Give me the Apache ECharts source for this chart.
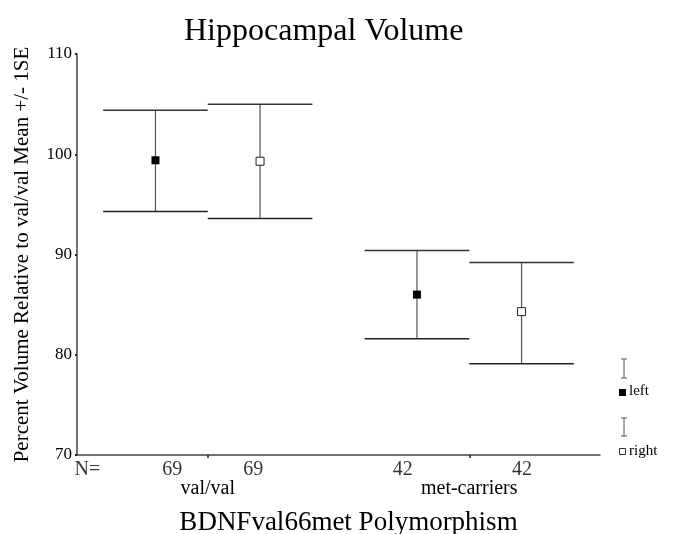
<!DOCTYPE html>
<html>
<head>
<meta charset="utf-8">
<script src="https://cdn.jsdelivr.net/npm/echarts@6/dist/echarts.min.js"></script>
<style>
  html, body { margin: 0; padding: 0; background: #fff; }
  #eChart { width: 676px; height: 534px; }
</style>
</head>
<body>
<div id="eChart"></div>
<script>
// values
const groups = ["val/val", "met-carriers"];
const groupPos = [2.5, 7.5];
const sides = ["left", "right"];
const barPos = [1.5, 3.5, 6.5, 8.5];
const barSide = ["left", "right", "left", "right"];
const means = [99.4, 99.3, 86.0, 84.3];
const upper = [104.4, 105.0, 90.4, 89.2];
const lower = [94.3, 93.6, 81.6, 79.1];
const nText = ["N=", "69", "69", "42", "42"];
const nPos = [0.2, 1.82, 3.37, 6.23, 8.51];
const yTicks = [70, 80, 90, 100, 110];

const FONT = "Liberation Serif";

const barData = barPos.map((x, i) => [x, lower[i], upper[i]]);
const meanData = (side) =>
  barPos.map((x, i) => (barSide[i] === side ? [x, means[i]] : null)).filter((d) => d);

function renderBar(params, api) {
  const x = api.value(0);
  const lo = api.coord([x, api.value(1)]);
  const hi = api.coord([x, api.value(2)]);
  const l = api.coord([x - 1, api.value(1)])[0];
  const r = api.coord([x + 1, api.value(1)])[0];
  return {
    type: "group",
    children: [
      { type: "line", shape: { x1: lo[0], y1: lo[1], x2: hi[0], y2: hi[1] },
        style: { stroke: "#555", lineWidth: 1.2 } },
      { type: "line", shape: { x1: l, y1: hi[1], x2: r, y2: hi[1] },
        style: { stroke: "#333", lineWidth: 1.5 } },
      { type: "line", shape: { x1: l, y1: lo[1], x2: r, y2: lo[1] },
        style: { stroke: "#222", lineWidth: 1.5 } },
    ],
  };
}

const myChart = echarts.init(document.getElementById("eChart"), null, { renderer: "canvas" });

myChart.setOption({
  animation: false,
  textStyle: { fontFamily: FONT },
  title: {
    text: "Hippocampal Volume",
    left: 179,
    top: 11,
    textStyle: { fontFamily: FONT, fontSize: 32, fontWeight: "normal", color: "#000" },
  },
  grid: { left: 77, right: 76, top: 54, bottom: 79, outerBoundsMode: "none" },
  xAxis: {
    type: "value",
    min: 0,
    max: 10,
    name: "BDNFval66met Polymorphism",
    nameLocation: "middle",
    nameGap: 54,
    nameTextStyle: { fontFamily: FONT, fontSize: 27, color: "#000", padding: [0, 0, 0, 20] },
    splitLine: { show: false },
    axisLine: { lineStyle: { color: "#444", width: 1.5 } },
    axisTick: { customValues: groupPos, length: 3, lineStyle: { color: "#222", width: 1.5 } },
    axisLabel: {
      customValues: groupPos,
      margin: 24,
      fontFamily: FONT,
      fontSize: 20,
      color: "#000",
      formatter: (v) => groups[groupPos.indexOf(v)] || "",
    },
  },
  yAxis: {
    type: "value",
    min: 70,
    max: 110,
    interval: 10,
    name: "Percent Volume Relative to val/val Mean +/- 1SE",
    nameLocation: "middle",
    nameGap: 44,
    nameTextStyle: { fontFamily: FONT, fontSize: 21, color: "#000" },
    splitLine: { show: false },
    axisLine: { show: true, lineStyle: { color: "#444", width: 1.5 } },
    axisTick: { show: true, length: 2, lineStyle: { color: "#222", width: 2 } },
    axisLabel: {
      margin: 5,
      fontFamily: FONT,
      fontSize: 17,
      color: "#000",
      formatter: (v) => (yTicks.includes(v) ? String(v) : ""),
    },
  },
  series: [
    {
      type: "custom",
      renderItem: renderBar,
      data: barData,
      encode: { x: 0, y: [1, 2] },
      z: 2,
    },
    {
      name: sides[0],
      type: "scatter",
      symbol: "rect",
      symbolSize: 8,
      itemStyle: { color: "#000", opacity: 1 },
      data: meanData("left"),
      z: 3,
    },
    {
      name: sides[1],
      type: "scatter",
      symbol: "rect",
      symbolSize: 8,
      itemStyle: { color: "#fff", borderColor: "#222", borderWidth: 1, opacity: 1 },
      data: meanData("right"),
      z: 3,
    },
    {
      type: "scatter",
      symbolSize: 0,
      clip: false,
      silent: true,
      data: nPos.map((x, i) => ({ value: [x, 70], name: nText[i] })),
      label: {
        show: true,
        position: "inside",
        offset: [0, 15],
        formatter: (p) => p.name,
        fontFamily: FONT,
        fontSize: 20,
        color: "#000",
      },
    },
  ],
  graphic: [
    // legend: error-bar icon above each marker
    { type: "line", shape: { x1: 624, y1: 359, x2: 624, y2: 378 }, style: { stroke: "#555", lineWidth: 1 } },
    { type: "line", shape: { x1: 621, y1: 359, x2: 627, y2: 359 }, style: { stroke: "#555", lineWidth: 1 } },
    { type: "line", shape: { x1: 621, y1: 378, x2: 627, y2: 378 }, style: { stroke: "#555", lineWidth: 1 } },
    { type: "rect", shape: { x: 619, y: 389, width: 7, height: 7 }, style: { fill: "#000" } },
    { type: "text", left: 629, top: 384, style: { text: sides[0], font: "15px " + FONT, fill: "#000" } },
    { type: "line", shape: { x1: 624, y1: 418, x2: 624, y2: 436 }, style: { stroke: "#555", lineWidth: 1 } },
    { type: "line", shape: { x1: 621, y1: 418, x2: 627, y2: 418 }, style: { stroke: "#555", lineWidth: 1 } },
    { type: "line", shape: { x1: 621, y1: 436, x2: 627, y2: 436 }, style: { stroke: "#555", lineWidth: 1 } },
    { type: "rect", shape: { x: 619.5, y: 448.5, width: 6, height: 6 }, style: { fill: "#fff", stroke: "#333", lineWidth: 1 } },
    { type: "text", left: 629, top: 444, style: { text: sides[1], font: "15px " + FONT, fill: "#000" } },
  ],
});
</script>
</body>
</html>
